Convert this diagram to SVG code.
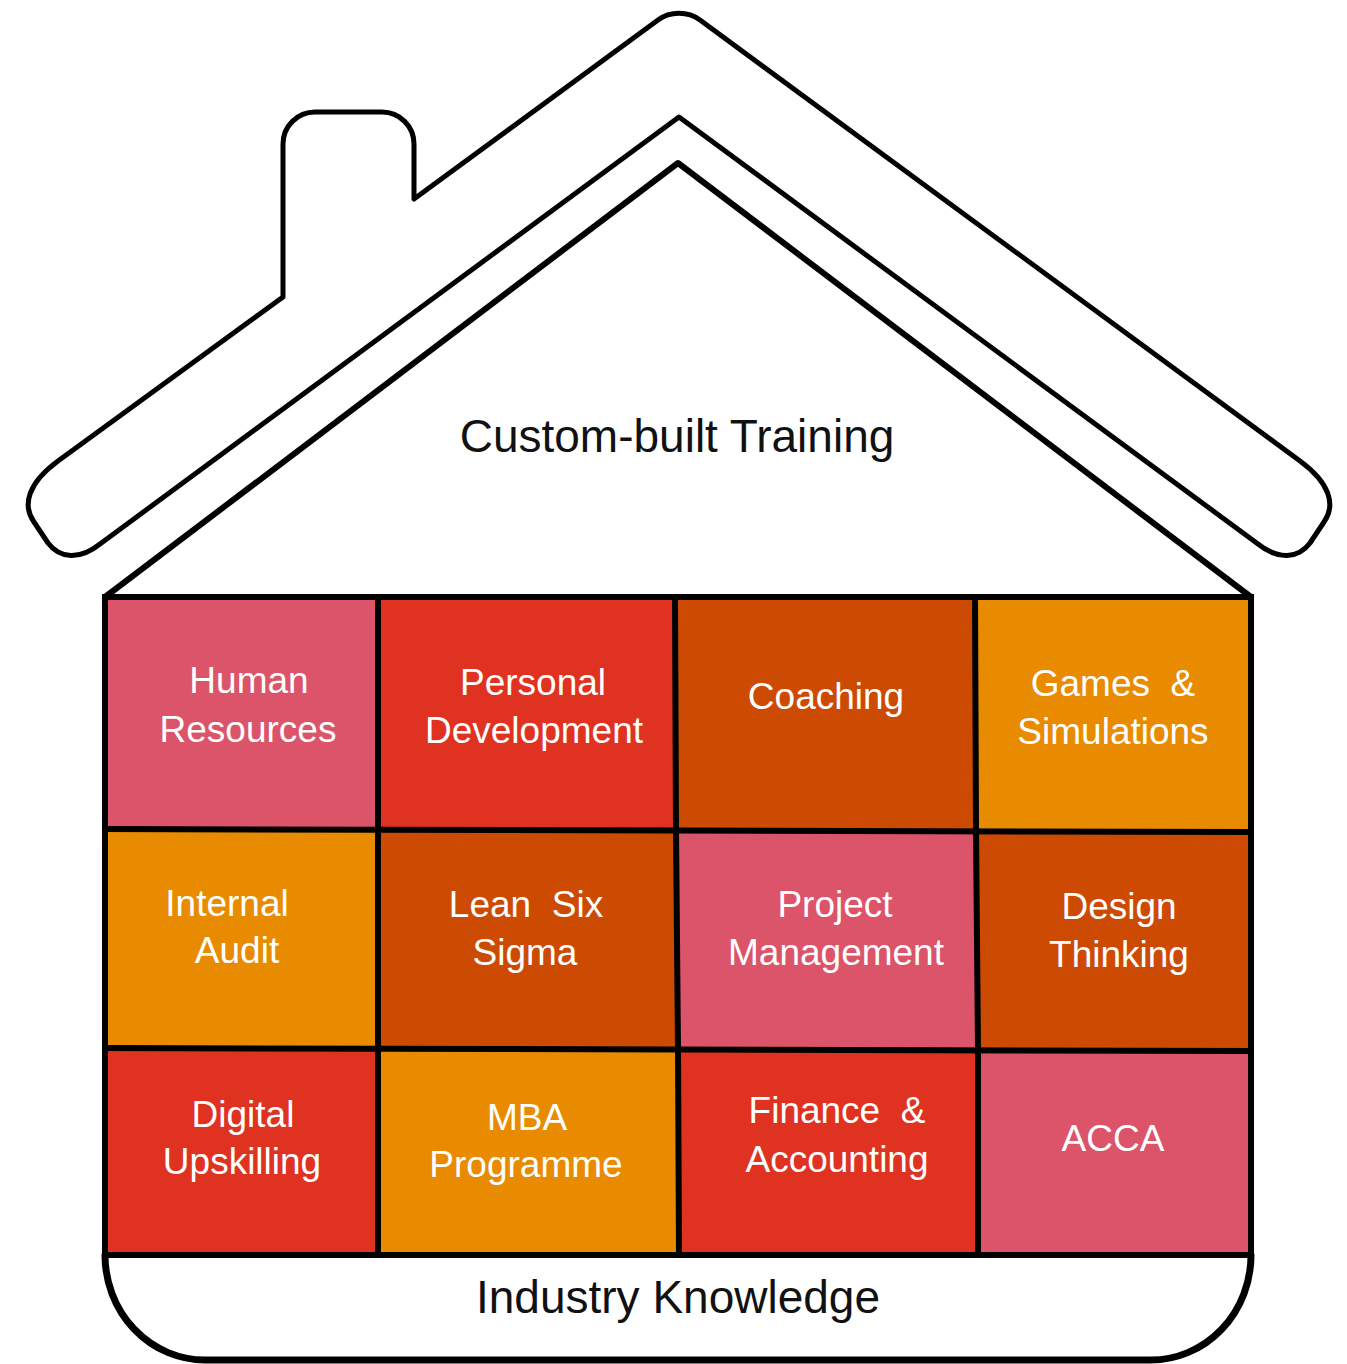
<svg xmlns="http://www.w3.org/2000/svg" width="1347" height="1364" viewBox="0 0 1347 1364">
  <style>
    .outline { fill: none; stroke: #000; stroke-linejoin: round; stroke-linecap: round; }
    .cell-text { font-family: "Liberation Sans", Arial, Helvetica, sans-serif; font-size: 37px; fill: #fff; text-anchor: middle; white-space: pre; }
    .big-text { font-family: "Liberation Sans", Arial, Helvetica, sans-serif; font-size: 46px; fill: #111; text-anchor: middle; }
    .pink { fill: #DB5469; }
    .red { fill: #DF3220; }
    .rust { fill: #CD4A02; }
    .orange { fill: #E98B00; }
    .gridline { fill: none; stroke: #000; stroke-width: 6; stroke-linecap: square; }
  </style>
  <rect x="0" y="0" width="1347" height="1364" fill="#fff"/>

  <g id="roof">
    <path class="outline" stroke-width="5" d="M 283,297 L 58,461 C 28,483 22,505 34,522 L 48,543 C 60,559 80,560 100,544 L 679,117 L 1258,544 C 1278,560 1298,559 1310,543 L 1324,522 C 1336,505 1330,483 1300,461 L 700,20 C 688,11 670,11 658,20 L 414,199 L 414,144 A 32 32 0 0 0 382,112 L 315,112 A 32 32 0 0 0 283,144 Z"/>
  </g>

  <g id="attic">
    <path class="outline" stroke-width="6" stroke-linejoin="miter" d="M 105,597 L 678,163 L 1251,597"/>
    <text class="big-text" x="677" y="452">Custom-built Training</text>
  </g>

  <g id="foundation">
    <path class="outline" stroke-width="7" d="M 105,1255 A 100 105 0 0 0 205,1360 L 1151,1360 A 100 105 0 0 0 1251,1255"/>
    <text class="big-text" x="678" y="1313">Industry Knowledge</text>
  </g>

  <g id="cell-human-resources">
    <rect class="pink" x="105" y="597" width="273" height="233"/>
    <text class="cell-text" x="249" y="693">Human</text>
    <text class="cell-text" x="248" y="742">Resources</text>
  </g>
  <g id="cell-personal-development">
    <rect class="red" x="378" y="597" width="297" height="233"/>
    <text class="cell-text" x="533" y="695">Personal</text>
    <text class="cell-text" x="534" y="743">Development</text>
  </g>
  <g id="cell-coaching">
    <rect class="rust" x="675" y="597" width="300" height="234"/>
    <text class="cell-text" x="826" y="709">Coaching</text>
  </g>
  <g id="cell-games-simulations">
    <rect class="orange" x="975" y="597" width="276" height="235"/>
    <text class="cell-text" x="1113" y="696">Games  &amp;</text>
    <text class="cell-text" x="1113" y="744">Simulations</text>
  </g>

  <g id="cell-internal-audit">
    <rect class="orange" x="105" y="829" width="273" height="220"/>
    <text class="cell-text" x="227" y="916">Internal</text>
    <text class="cell-text" x="237" y="963">Audit</text>
  </g>
  <g id="cell-lean-six-sigma">
    <rect class="rust" x="378" y="829" width="299" height="220"/>
    <text class="cell-text" x="526" y="917">Lean  Six</text>
    <text class="cell-text" x="525" y="965">Sigma</text>
  </g>
  <g id="cell-project-management">
    <rect class="pink" x="677" y="830" width="300" height="220"/>
    <text class="cell-text" x="835" y="917">Project</text>
    <text class="cell-text" x="836" y="965">Management</text>
  </g>
  <g id="cell-design-thinking">
    <rect class="rust" x="977" y="831" width="274" height="220"/>
    <text class="cell-text" x="1119" y="919">Design</text>
    <text class="cell-text" x="1119" y="967">Thinking</text>
  </g>

  <g id="cell-digital-upskilling">
    <rect class="red" x="105" y="1048" width="273" height="207"/>
    <text class="cell-text" x="243" y="1127">Digital</text>
    <text class="cell-text" x="242" y="1174">Upskilling</text>
  </g>
  <g id="cell-mba-programme">
    <rect class="orange" x="378" y="1048" width="301" height="207"/>
    <text class="cell-text" x="527" y="1130">MBA</text>
    <text class="cell-text" x="526" y="1177">Programme</text>
  </g>
  <g id="cell-finance-accounting">
    <rect class="red" x="679" y="1049" width="299" height="206"/>
    <text class="cell-text" x="837" y="1123">Finance  &amp;</text>
    <text class="cell-text" x="837" y="1172">Accounting</text>
  </g>
  <g id="cell-acca">
    <rect class="pink" x="978" y="1050" width="273" height="205"/>
    <text class="cell-text" x="1113" y="1151">ACCA</text>
  </g>

  <g id="grid">
    <path class="gridline" d="M 105,829 L 1251,832"/>
    <path class="gridline" d="M 105,1048 L 1251,1051"/>
    <path class="gridline" d="M 105,1255 L 1251,1255"/>
    <path class="gridline" d="M 378,597 L 378,1255"/>
    <path class="gridline" d="M 675,597 L 676,829 L 678,1049 L 679,1255"/>
    <path class="gridline" d="M 975,597 L 976,829 L 978,1049 L 978,1255"/>
    <path class="gridline" d="M 105,597 L 1251,597 L 1251,1255 M 105,597 L 105,1255"/>
  </g>
</svg>
